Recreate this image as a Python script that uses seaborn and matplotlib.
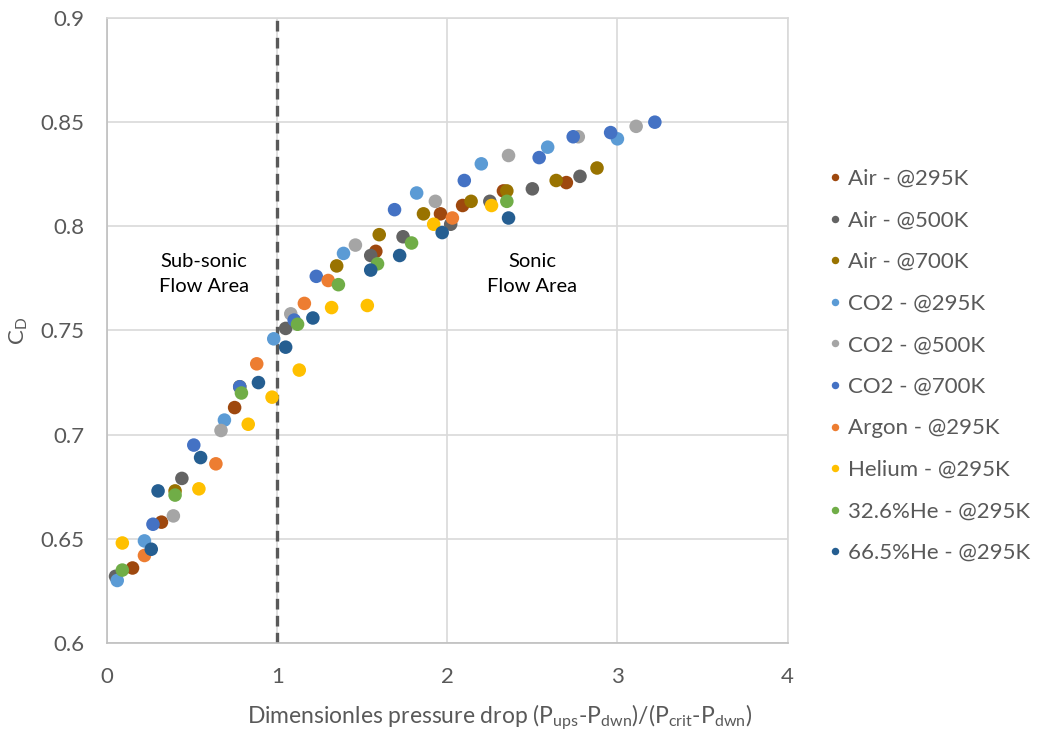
import pandas as pd
import numpy as np
import seaborn as sns
import matplotlib.pyplot as plt

# ---- data ----
air295_x = [0.15, 0.32, 0.75, 1.58, 1.96, 2.09, 2.33, 2.70]
air295_y = [0.636, 0.658, 0.713, 0.788, 0.806, 0.810, 0.817, 0.821]

air500_x = [0.05, 0.44, 1.05, 1.55, 1.74, 2.02, 2.25, 2.50, 2.78]
air500_y = [0.632, 0.679, 0.751, 0.786, 0.795, 0.801, 0.812, 0.818, 0.824]

air700_x = [0.40, 0.78, 1.35, 1.60, 1.86, 2.14, 2.35, 2.64, 2.88]
air700_y = [0.673, 0.723, 0.781, 0.796, 0.806, 0.812, 0.817, 0.822, 0.828]

co2_295_x = [0.06, 0.22, 0.69, 0.98, 1.39, 1.82, 2.20, 2.59, 3.00]
co2_295_y = [0.630, 0.649, 0.707, 0.746, 0.787, 0.816, 0.830, 0.838, 0.842]

co2_500_x = [0.39, 0.67, 1.08, 1.46, 1.93, 2.36, 2.77, 3.11]
co2_500_y = [0.661, 0.702, 0.758, 0.791, 0.812, 0.834, 0.843, 0.848]

co2_700_x = [0.27, 0.51, 0.78, 1.10, 1.23, 1.69, 2.10, 2.54, 2.74, 2.96, 3.22]
co2_700_y = [0.657, 0.695, 0.723, 0.755, 0.776, 0.808, 0.822, 0.833, 0.843, 0.845, 0.850]

argon_x = [0.22, 0.64, 0.88, 1.16, 1.30, 2.03]
argon_y = [0.642, 0.686, 0.734, 0.763, 0.774, 0.804]

helium_x = [0.09, 0.54, 0.83, 0.97, 1.13, 1.32, 1.53, 1.92, 2.26]
helium_y = [0.648, 0.674, 0.705, 0.718, 0.731, 0.761, 0.762, 0.801, 0.810]

he326_x = [0.09, 0.40, 0.79, 1.12, 1.36, 1.59, 1.79, 2.35]
he326_y = [0.635, 0.671, 0.720, 0.753, 0.772, 0.782, 0.792, 0.812]

he665_x = [0.26, 0.30, 0.55, 0.89, 1.05, 1.21, 1.55, 1.72, 1.97, 2.36]
he665_y = [0.645, 0.673, 0.689, 0.725, 0.742, 0.756, 0.779, 0.786, 0.797, 0.804]

series_labels = ["Air - @295K", "Air - @500K", "Air - @700K",
                 "CO2 - @295K", "CO2 - @500K", "CO2 - @700K",
                 "Argon - @295K", "Helium - @295K",
                 "32.6%He - @295K", "66.5%He - @295K"]
series_x = [air295_x, air500_x, air700_x, co2_295_x, co2_500_x, co2_700_x,
            argon_x, helium_x, he326_x, he665_x]
series_y = [air295_y, air500_y, air700_y, co2_295_y, co2_500_y, co2_700_y,
            argon_y, helium_y, he326_y, he665_y]
colors = ["#9E480E", "#636363", "#997300", "#5B9BD5", "#A5A5A5",
          "#4472C4", "#ED7D31", "#FFC000", "#70AD47", "#255E91"]

rows = []
for lab, xs, ys in zip(series_labels, series_x, series_y):
    for x, y in zip(xs, ys):
        rows.append({"dp": x, "cd": y, "gas": lab})
df = pd.DataFrame(rows)

# ---- plot ----
sns.set_style("white")
plt.rcParams["font.family"] = ["Lato", "DejaVu Sans"]
plt.rcParams["mathtext.fontset"] = "custom"
plt.rcParams["mathtext.rm"] = "Lato"
plt.rcParams["mathtext.it"] = "Lato:italic"

fig = plt.figure(figsize=(10.39, 7.32), dpi=100)
ax = fig.add_axes([0.103, 0.1216, 0.655, 0.8538])

grid_c = "#D9D9D9"
text_c = "#595959"

sns.scatterplot(data=df, x="dp", y="cd", hue="gas", hue_order=series_labels,
                palette=colors, s=95, linewidth=0, ax=ax, legend=True, zorder=3)

ax.axvline(1, color="#595959", lw=2.4, ls=(0, (3.2, 1.9)), zorder=2)

ax.set_xlim(0, 4)
ax.set_ylim(0.6, 0.9)
ax.set_xticks([0, 1, 2, 3, 4])
ax.set_yticks(np.arange(0.6, 0.901, 0.05))
ax.set_yticklabels(["0.6", "0.65", "0.7", "0.75", "0.8", "0.85", "0.9"])
ax.grid(True, color=grid_c, lw=1.2)
ax.set_axisbelow(True)
for side in ["top", "right"]:
    ax.spines[side].set_color(grid_c)
    ax.spines[side].set_linewidth(1.2)
for side in ["left", "bottom"]:
    ax.spines[side].set_color("#BFBFBF")
    ax.spines[side].set_linewidth(1.2)
ax.tick_params(axis="both", labelsize=16, colors=text_c, length=0)
ax.tick_params(axis="y", pad=16)
ax.tick_params(axis="x", pad=17)

ax.set_xlabel(r"Dimensionles pressure drop (P$_\mathrm{ups}$-P$_\mathrm{dwn}$)/(P$_\mathrm{crit}$-P$_\mathrm{dwn}$)",
              fontsize=16.5, color=text_c)
ax.xaxis.set_label_coords(0.577, -0.094)
ax.set_ylabel(r"C$_\mathrm{D}$", fontsize=16, color=text_c, labelpad=8)

ax.text(0.57, 0.777, "Sub-sonic\nFlow Area", ha="center", va="center",
        fontsize=14.5, color="#000000", linespacing=1.6)
ax.text(2.5, 0.777, "Sonic\nFlow Area", ha="center", va="center",
        fontsize=14.5, color="#000000", linespacing=1.6)

leg = ax.legend(loc="center left", bbox_to_anchor=(0.774, 0.5),
                bbox_transform=fig.transFigure, frameon=False,
                fontsize=16, labelspacing=0.97, handletextpad=0.05,
                markerscale=0.55, handlelength=1.0)
for t in leg.get_texts():
    t.set_color(text_c)

fig.savefig("out.png", dpi=100)
